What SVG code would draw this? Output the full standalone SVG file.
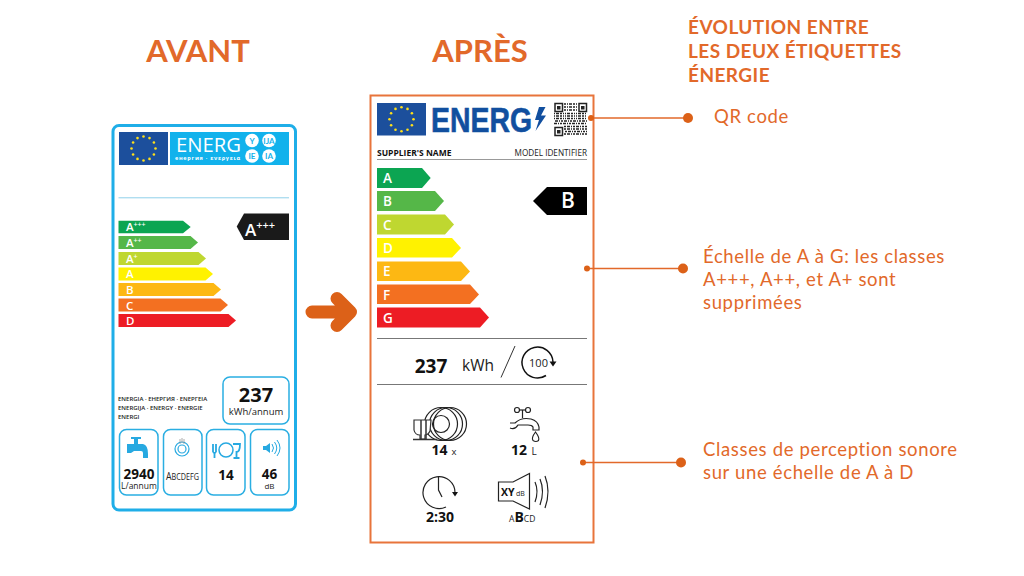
<svg xmlns="http://www.w3.org/2000/svg" xmlns:xlink="http://www.w3.org/1999/xlink" width="1024" height="576" viewBox="0 0 1024 576">
<style>
text{font-family:"Lato","Open Sans","Liberation Sans",sans-serif}
.ttl{font-size:31px;font-weight:700;fill:#e2692a;text-anchor:middle}
.head{font-size:19px;font-weight:700;fill:#e2692a;letter-spacing:.45px}
.note{font-size:18.5px;fill:#e2692a;letter-spacing:.65px}
.conn{stroke:#e2692a;stroke-width:1.5;fill:none}
.dot{fill:#dc6118}
.lab{font-family:"Open Sans","Liberation Sans",sans-serif;font-weight:600;fill:#fff}
.num{font-family:"Open Sans","Liberation Sans",sans-serif;font-weight:700;fill:#111}
.reg{font-family:"Open Sans","Liberation Sans",sans-serif;fill:#222}
.box{fill:#fff;stroke:#2aaee2;stroke-width:1.5}
.star{fill:#ffe01a}
.ic{fill:none;stroke:#222;stroke-width:1.2}
.rule{stroke:#777;stroke-width:1}
.qr{fill:none;stroke:#222;stroke-width:1.5}
</style>
<defs>
<g id="stars">
<circle class="star" cx="0" cy="-12" r="1.3"/><circle class="star" cx="6" cy="-10.400" r="1.3"/><circle class="star" cx="10.400" cy="-6" r="1.3"/><circle class="star" cx="12" cy="0" r="1.3"/><circle class="star" cx="10.400" cy="6" r="1.3"/><circle class="star" cx="6" cy="10.400" r="1.3"/><circle class="star" cx="0" cy="12" r="1.3"/><circle class="star" cx="-6" cy="10.400" r="1.3"/><circle class="star" cx="-10.400" cy="6" r="1.3"/><circle class="star" cx="-12" cy="0" r="1.3"/><circle class="star" cx="-10.400" cy="-6" r="1.3"/><circle class="star" cx="-6" cy="-10.400" r="1.3"/>
</g>
</defs>
<rect width="1024" height="576" fill="#fff"/>

<g id="titles">
<text class="ttl" x="198" y="62">AVANT</text>
<text class="ttl" x="480" y="62">APRÈS</text>
<text class="head" x="688" y="34">ÉVOLUTION ENTRE</text>
<text class="head" x="688" y="58">LES DEUX ÉTIQUETTES</text>
<text class="head" x="688" y="82">ÉNERGIE</text>
</g>

<g id="label-avant">
<rect x="113" y="125.500" width="182.500" height="384.500" rx="6" fill="#fff" stroke="#1faee8" stroke-width="3"/>
<rect x="119" y="132" width="49" height="33" fill="#1c4f9c"/>
<use xlink:href="#stars" href="#stars" transform="translate(143.500 148.500)"/>
<rect x="170" y="132" width="119" height="33" fill="#12b2ec"/>
<text x="176" y="152" font-size="20.500" fill="#fff" style="font-family:'Open Sans','Liberation Sans',sans-serif" textLength="65" lengthAdjust="spacingAndGlyphs">ENERG</text>
<text x="175" y="159.500" font-size="5.500" font-weight="700" fill="#fff" style="font-family:'Open Sans','Liberation Sans',sans-serif" textLength="65">енергия · ενεργεια</text>
<g fill="#fff"><circle cx="252" cy="140.500" r="6.800"/><circle cx="269" cy="140.500" r="6.800"/><circle cx="252" cy="156" r="6.800"/><circle cx="269" cy="156" r="6.800"/></g>
<g font-size="8" font-weight="700" fill="#12b2ec" text-anchor="middle" style="font-family:'Open Sans','Liberation Sans',sans-serif">
<text x="252" y="143.500">Y</text><text x="269" y="143.500">IJA</text><text x="252" y="159">IE</text><text x="269" y="159">IA</text>
</g>
<path d="M118.500 197.800H289" stroke="#8fd0ea" stroke-width="1"/>
<path d="M118.500 220.700H183L190.700 227 183 233.300H118.500Z" fill="#0ca552"/>
<path d="M118.500 236H190.500L198 242.500 190.500 249H118.500Z" fill="#55b748"/>
<path d="M118.500 252H198.500L206 258.500 198.500 265H118.500Z" fill="#bfd730"/>
<path d="M118.500 267.500H205.500L213 274 205.500 280.500H118.500Z" fill="#fff200"/>
<path d="M118.500 283H213.500L221 289.500 213.500 296H118.500Z" fill="#fdb813"/>
<path d="M118.500 298.500H220.500L228 305 220.500 311.500H118.500Z" fill="#f37021"/>
<path d="M118.500 314H228.500L236 320.500 228.500 327H118.500Z" fill="#ed1c24"/>
<g font-size="11.500">
<text class="lab" x="126" y="231">A<tspan font-size="7" dy="-4">+++</tspan></text>
<text class="lab" x="126" y="247">A<tspan font-size="7" dy="-4">++</tspan></text>
<text class="lab" x="126" y="262.500">A<tspan font-size="7" dy="-4">+</tspan></text>
<text class="lab" x="126" y="278">A</text>
<text class="lab" x="126" y="294">B</text>
<text class="lab" x="126" y="309.500">C</text>
<text class="lab" x="126" y="325">D</text>
</g>
<path d="M236.700 226.500L244 213.500H289V240H244Z" fill="#1a1a1a"/>
<text class="lab" x="245" y="236" font-size="17">A<tspan font-size="11" dy="-7">+++</tspan></text>
<g font-size="6" font-weight="600">
<text class="reg" x="118" y="401">ENERGIA · ЕНЕРГИЯ · ΕΝΕΡΓΕΙΑ</text>
<text class="reg" x="118" y="410">ENERGIJA · ENERGY · ENERGIE</text>
<text class="reg" x="118" y="419">ENERGI</text>
</g>
<rect class="box" x="223" y="377" width="66" height="47" rx="7"/>
<text class="num" x="256" y="402" font-size="20" text-anchor="middle">237</text>
<text class="reg" x="256" y="414.500" font-size="9.500" text-anchor="middle">kWh/annum</text>
<rect class="box" x="119.500" y="429.500" width="38.500" height="65.500" rx="7"/>
<rect class="box" x="163.500" y="429.500" width="38.500" height="65.500" rx="7"/>
<rect class="box" x="206.500" y="429.500" width="38.500" height="65.500" rx="7"/>
<rect class="box" x="250.500" y="429.500" width="38.500" height="65.500" rx="7"/>
<path d="M127 444H134V439H131V437H141V439H138V444H143Q148 445 148 454V458H143V453Q143 451 141 451H134L131 453H127Z" fill="#27a9e1"/>
<text class="num" x="139" y="479" font-size="13.500" text-anchor="middle">2940</text>
<text class="reg" x="139" y="488.500" font-size="8.500" text-anchor="middle">L/annum</text>
<circle cx="182" cy="449" r="7" fill="none" stroke="#27a9e1" stroke-width="1.200"/><circle cx="182" cy="449" r="4" fill="none" stroke="#27a9e1" stroke-width="1.200"/>
<path d="M180 439V444M182 438V443M184 439V444" stroke="#888" stroke-width=".7"/>
<text class="reg" x="182.500" y="480" font-size="11" text-anchor="middle" textLength="33" lengthAdjust="spacingAndGlyphs">A<tspan font-size="9">BCDEFG</tspan></text>
<circle cx="226" cy="450" r="7" fill="#fff" stroke="#27a9e1" stroke-width="1.500"/>
<path d="M213 444V452M216 444V452M213 452Q214.500 454 216 452M214.500 452V458" fill="none" stroke="#27a9e1" stroke-width="1.800"/>
<path d="M233 444H240Q240 452 236.500 452V457M233.500 458H239.500" fill="none" stroke="#27a9e1" stroke-width="1.800"/>
<text class="num" x="226" y="480" font-size="13.500" text-anchor="middle">14</text>
<path d="M263 446H266L270 443V453L266 450H263Z" fill="#27a9e1"/>
<path d="M272 444Q275 448 272 452M274.500 442Q279 448 274.500 454M277 440Q283 448 277 456" fill="none" stroke="#27a9e1" stroke-width="1"/>
<text class="num" x="269.500" y="479" font-size="13.500" text-anchor="middle">46</text>
<text class="reg" x="269.500" y="488.500" font-size="8" text-anchor="middle">dB</text>
</g>

<g id="fleche">
<path d="M312 312H346M337 298.500L350.500 312 337 325.500" fill="none" stroke="#dc6118" stroke-width="13" stroke-linecap="round" stroke-linejoin="round"/>
</g>

<g id="label-apres">
<rect x="370.500" y="95.500" width="223" height="447" fill="#fff" stroke="#e8743b" stroke-width="2"/>
<rect x="377" y="103" width="49" height="32.500" fill="#1c4f9c"/>
<use xlink:href="#stars" href="#stars" transform="translate(401.500 119.300)"/>
<text x="431" y="132" font-size="35" font-weight="700" fill="#114f9f" stroke="#114f9f" stroke-width=".6" style="font-family:'Liberation Sans',sans-serif" textLength="101" lengthAdjust="spacingAndGlyphs">ENERG</text>
<path d="M539 107L535 120H539L535.500 131 546 115.500H541L545.500 107Z" fill="#114f9f"/>
<g id="qr-code">
<path d="M555 103.500h7.500v8h-7.500zM579 103.500h7.500v8h-7.500zM555 127.500h7.500v8h-7.500z" class="qr"/>
<path d="M557 106h3.500v3.500h-3.500zM581 106h3.500v3.500h-3.500zM557 130h3.500v3.500h-3.500z" fill="#222"/>
<path class="qr" stroke-dasharray="2 1 1 1 3 1" d="M564 104H577M564 107H577M564 110H577"/>
<path class="qr" stroke-dasharray="1 1 3 1 2 1 1 1" d="M554 113.500H587M554 116H587M554 118.500H587"/>
<path class="qr" stroke-dasharray="3 1 1 1 2 1" d="M555 121H587M554 123.500H587"/>
<path class="qr" stroke-dasharray="2 1 3 1 1 1" d="M564 126.500H587M564 129H587M565 131.500H587M564 134H587"/>
</g>
<text class="num" x="377" y="156" font-size="8.500">SUPPLIER'S NAME</text>
<text class="reg" x="587" y="156" font-size="8.200" text-anchor="end">MODEL IDENTIFIER</text>
<path d="M377 159.500H587" stroke="#999" stroke-width="1"/>
<path d="M377 168H422L430.700 178 422 188H377Z" fill="#0ca552"/>
<path d="M377 191H435L444 201 435 211H377Z" fill="#55b748"/>
<path d="M377 214.500H445L454 224.500 445 234.500H377Z" fill="#bfd730"/>
<path d="M377 238H452L461 248 452 257.500H377Z" fill="#fff200"/>
<path d="M377 261.500H461L470 271.500 461 281H377Z" fill="#fdb813"/>
<path d="M377 284.500H470L479 294.500 470 304H377Z" fill="#f37021"/>
<path d="M377 307.500H480L489 317.500 480 327.500H377Z" fill="#ed1c24"/>
<g font-size="13.500">
<text class="lab" x="383" y="183">A</text>
<text class="lab" x="383" y="206">B</text>
<text class="lab" x="383" y="229.500">C</text>
<text class="lab" x="383" y="252.500">D</text>
<text class="lab" x="383" y="276">E</text>
<text class="lab" x="383" y="299.500">F</text>
<text class="lab" x="383" y="322.500">G</text>
</g>
<path d="M533 201L547 187H587V215H547Z" fill="#000"/>
<text class="lab" x="568" y="208" font-size="21" text-anchor="middle">B</text>
<path class="rule" d="M377 338.500H587M377 384.500H587"/>
<text class="num" x="431" y="372.500" font-size="19" text-anchor="middle">237</text>
<text class="reg" x="478" y="370.500" font-size="15.500" text-anchor="middle">kWh</text>
<path d="M501 377.500L515 346" stroke="#333" stroke-width="1"/>
<path d="M546 375.500A15.500 15.500 0 1 1 553 362" fill="none" stroke="#111" stroke-width="1.500"/>
<path d="M549.500 361.500H556.500L553 366.500Z" fill="#111"/>
<text class="reg" x="538.500" y="366.500" font-size="11" text-anchor="middle">100</text>
<g id="icon-vaisselle">
<circle class="ic" cx="450" cy="424" r="16.500" stroke-width="1.500"/><circle class="ic" cx="446" cy="424" r="16.500" stroke-width="1.500" fill="#fff"/><circle class="ic" cx="441" cy="424" r="16.500" stroke-width="1.500" fill="#fff"/><circle class="ic" cx="441" cy="424" r="8.500" stroke-width="1.500"/>
<path d="M414 420H431L430 431Q428 435 425 435V439H420V435Q415 435 414 430Z" fill="#fff" stroke="#333" stroke-width="1.200"/>
<path d="M421 420V439M426 420V439M413 439.500H437" stroke="#333" stroke-width="1.500"/>
</g>
<text class="num" x="439.500" y="454.500" font-size="14" text-anchor="middle">14</text><text class="reg" x="454" y="454.500" font-size="9.500" text-anchor="middle">x</text>
<g id="icon-robinet">
<path class="ic" d="M522.500 410V418M510 423H515Q521 417 531 419Q538 421 539 427V430H533V427Q532 425 528 425H518Q515 430 510 428"/>
<circle class="ic" cx="517" cy="410" r="2.500"/><circle class="ic" cx="528" cy="410" r="2.500"/><path class="ic" d="M519.500 410H525.500"/>
<path class="ic" d="M535.500 432Q531 438 533 440.500Q536 442.500 538.500 440.500Q540 438 535.500 432Z"/>
</g>
<text class="num" x="519" y="454.500" font-size="14" text-anchor="middle">12</text><text class="reg" x="534" y="454.500" font-size="10" text-anchor="middle">L</text>
<g id="icon-horloge">
<path class="ic" d="M455 492.500A16 16 0 1 0 446 507"/>
<path class="ic" d="M438.500 476V490L442 497"/>
<path d="M452 492H458L455 496.500Z" fill="#111"/>
</g>
<text class="num" x="440" y="522" font-size="14" text-anchor="middle">2:30</text>
<g id="icon-son">
<path class="ic" d="M498.500 482H513L529.500 473.500V509L513 501H498.500Z" stroke-width="1.400"/>
<path class="ic" d="M535 482Q539 491 535 502M540 479Q545 491 540 505M545 476Q551 491 545 508"/>
<text class="num" x="501" y="496" font-size="10.500">XY</text>
<text class="reg" x="516" y="496" font-size="7">dB</text>
</g>
<text class="reg" x="509" y="522" font-size="8.500" fill="#444">A<tspan class="num" font-size="14">B</tspan>CD</text>
</g>

<g id="connectors">
<path class="conn" d="M591 118H688"/><circle class="dot" cx="591" cy="118" r="3"/><circle class="dot" cx="688" cy="118" r="5"/>
<path class="conn" d="M587 268.500H683"/><circle class="dot" cx="587" cy="268.500" r="3"/><circle class="dot" cx="683" cy="268.500" r="5"/>
<path class="conn" d="M583 462.500H681"/><circle class="dot" cx="583" cy="462.500" r="3"/><circle class="dot" cx="681" cy="462.500" r="5"/>
</g>

<g id="notes">
<text class="note" x="714" y="123">QR code</text>
<text class="note" x="703" y="263">Échelle de A à G: les classes</text>
<text class="note" x="703" y="286">A+++, A++, et A+ sont</text>
<text class="note" x="703" y="309">supprimées</text>
<text class="note" x="703" y="456">Classes de perception sonore</text>
<text class="note" x="703" y="479">sur une échelle de A à D</text>
</g>
</svg>
